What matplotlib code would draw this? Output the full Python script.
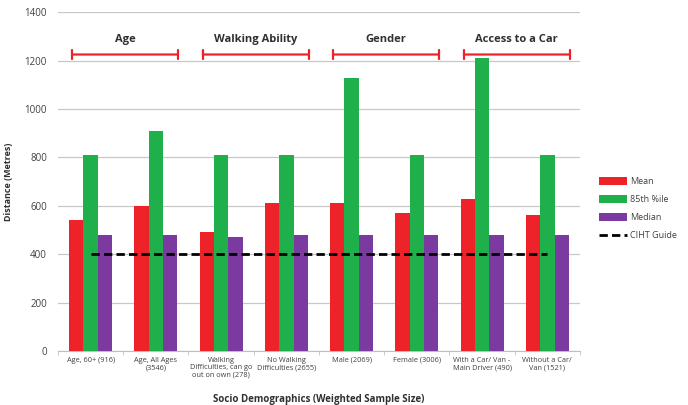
import matplotlib
matplotlib.use("Agg")
import matplotlib.pyplot as plt
import numpy as np

categories = ["Age, 60+ (916)", "Age, All Ages\n(3546)", "Walking\nDifficulties, can go\nout on own (278)",
              "No Walking\nDifficulties (2655)", "Male (2069)", "Female (3006)",
              "With a Car/ Van -\nMain Driver (490)", "Without a Car/\nVan (1521)"]
mean_vals = [540, 600, 490, 610, 610, 570, 630, 560]
p85_vals = [810, 910, 810, 810, 1130, 810, 1210, 810]
median_vals = [480, 480, 470, 480, 480, 480, 480, 480]
ciht_guide = 400
groups = ["Age", "Walking Ability", "Gender", "Access to a Car"]
group_spans = [(0, 1), (2, 3), (4, 5), (6, 7)]

plt.rcParams['font.family'] = ['Open Sans', 'DejaVu Sans']

fig = plt.figure(figsize=(6.88, 4.05), dpi=100)
ax = fig.add_axes([0.0843, 0.1333, 0.7587, 0.8367])

x = np.arange(len(categories))
w = 0.22
red, green, purple = '#ee2229', '#1fb04b', '#7a3aa0'
h1 = ax.bar(x - w, mean_vals, w, color=red, label='Mean', zorder=3)
h2 = ax.bar(x, p85_vals, w, color=green, label='85th %ile', zorder=3)
h3 = ax.bar(x + w, median_vals, w, color=purple, label='Median', zorder=3)
h4, = ax.plot([x[0], x[-1]], [ciht_guide, ciht_guide], color='black', lw=2, ls=(0, (3, 1.5)),
              label='CIHT Guide', zorder=4)

ax.set_xlim(-0.5, len(categories) - 0.5)
ax.set_ylim(0, 1400)
ax.set_yticks(range(0, 1401, 200))
ax.yaxis.grid(True, color='#c8c8c8', lw=0.9, zorder=0)
ax.set_axisbelow(True)
for s in ['top', 'right', 'left']:
    ax.spines[s].set_visible(False)
ax.spines['bottom'].set_color('#c0c0c0')
ax.tick_params(axis='y', length=0, labelsize=7, colors='#404040', pad=8)
ax.set_xticks(x)
ax.set_xticklabels(categories, fontsize=5.3, color='#404040', linespacing=1.1)
ax.set_xticks(np.arange(-0.5, len(categories), 1), minor=True)
ax.tick_params(axis='x', which='major', length=0, pad=4)
ax.tick_params(axis='x', which='minor', length=3, color='#c0c0c0')

ax.set_ylabel('Distance (Metres)', fontsize=6.5, fontweight='bold', color='#303030', labelpad=8)
ax.set_xlabel('Socio Demographics (Weighted Sample Size)', fontsize=7, fontweight='bold',
              color='#303030', labelpad=11)

for g, (a, b) in zip(groups, group_spans):
    ax.annotate('', xy=(a - 0.28, 1225), xytext=(b + 0.34, 1225),
                arrowprops=dict(arrowstyle='|-|', color=red, lw=1.6, mutation_scale=3.5,
                                shrinkA=0, shrinkB=0))
    ax.text((a + b) / 2 + 0.03, 1285, g, ha='center', va='center', fontsize=8,
            fontweight='bold', color='#303030')

leg = ax.legend([h1, h2, h3, h4], ['Mean', '85th %ile', 'Median', 'CIHT Guide'],
                loc='center left', bbox_to_anchor=(1.02, 0.42), frameon=False, fontsize=6.5,
                handlelength=3.2, handleheight=0.9, labelspacing=1.0, handletextpad=0.3)
for t in leg.get_texts():
    t.set_color('#404040')

fig.savefig('out.png', dpi=100)
